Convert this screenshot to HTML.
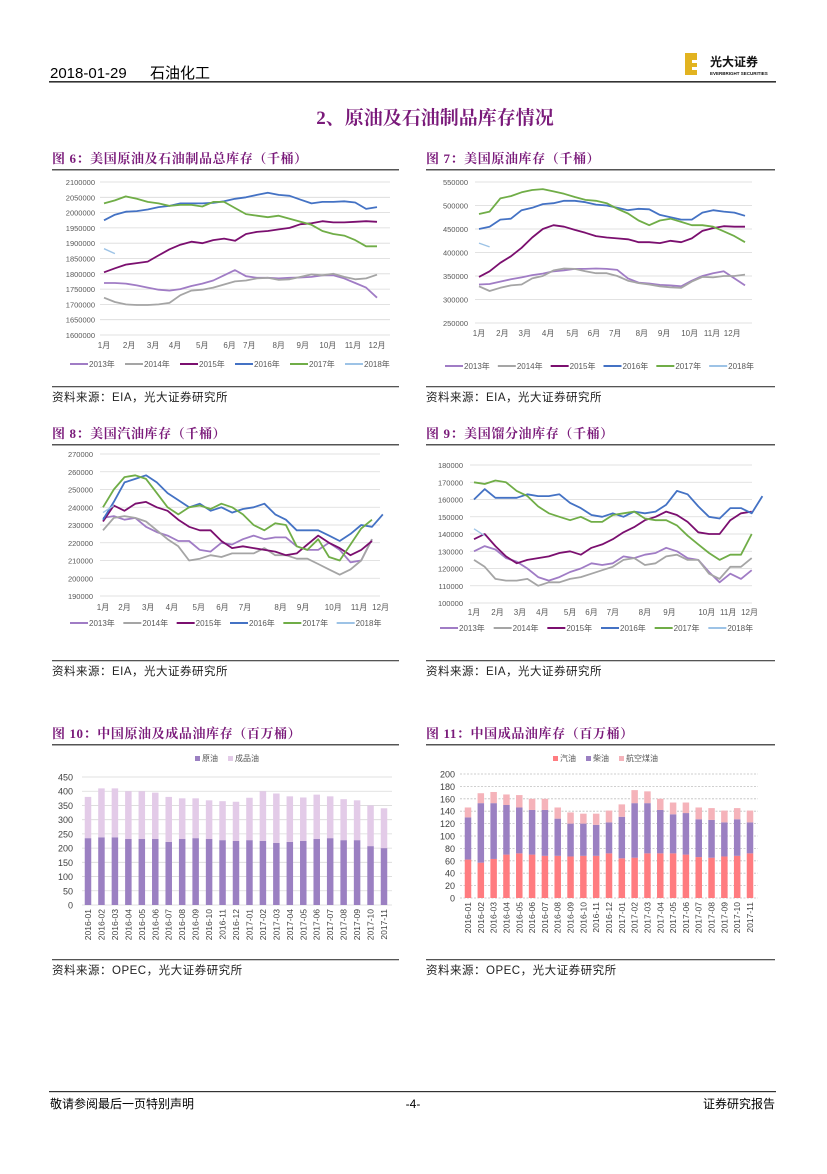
<!DOCTYPE html>
<html><head><meta charset="utf-8">
<style>
html,body{margin:0;padding:0;background:#fff;}
body{width:827px;height:1169px;position:relative;overflow:hidden;font-family:"Liberation Sans","Noto Sans CJK SC",sans-serif;}
svg text{font-family:"Liberation Sans","Noto Sans CJK SC",sans-serif;}
svg text.serif{font-family:"Liberation Serif","Noto Serif CJK SC",serif;}
</style></head>
<body>
<svg id="page" width="827" height="1169" viewBox="0 0 827 1169" xmlns="http://www.w3.org/2000/svg">
  <g>
    <text x="50" y="78" font-size="15" fill="#000">2018-01-29</text>
    <text x="150" y="78" font-size="15" fill="#000">石油化工</text>
    <rect x="49" y="81" width="727" height="1.6" fill="#333"/>
    <g>
      <rect x="685" y="53" width="12" height="22" fill="#e2b320"/>
      <rect x="692" y="60" width="5" height="3" fill="#fff"/>
      <rect x="692" y="67" width="5" height="3" fill="#fff"/>
      <text x="710" y="66" font-size="12" font-weight="bold" fill="#111">光大证券</text>
      <text x="710" y="75" font-size="4.5" font-weight="bold" fill="#111">EVERBRIGHT SECURITIES</text>
    </g>
  </g>
  <text x="435" y="124" class="serif" font-size="19" font-weight="bold" fill="#7a1a7a" text-anchor="middle">2、原油及石油制品库存情况</text>

  <g id="frames"></g>
  <g id="charts"></g>

  <g>
    <rect x="49" y="1091" width="727" height="1.2" fill="#333"/>
    <text x="50" y="1108" font-size="12" fill="#000">敬请参阅最后一页特别声明</text>
    <text x="413" y="1108" font-size="12" fill="#000" text-anchor="middle">-4-</text>
    <text x="775" y="1108" font-size="12" fill="#000" text-anchor="end">证券研究报告</text>
  </g>
</svg>
<script>
// ---------- Chart data (top-level arrays) ----------
const years = ['2013年','2014年','2015年','2016年','2017年','2018年'];
const months = ['1月','2月','3月','4月','5月','6月','7月','8月','9月','10月','11月','12月'];

// Fig 6: US total crude + products stocks (thousand barrels / 1000)
const f6_2013 = [1770,1770,1768,1762,1755,1748,1745,1750,1760,1768,1778,1795,1812,1792,1787,1787,1785,1787,1788,1790,1795,1795,1785,1770,1755,1722];
const f6_2014 = [1722,1708,1700,1698,1698,1700,1705,1730,1745,1748,1755,1765,1775,1778,1785,1787,1780,1782,1790,1798,1795,1800,1790,1782,1785,1797];
const f6_2015 = [1805,1818,1830,1835,1840,1860,1880,1895,1905,1900,1910,1915,1908,1930,1937,1940,1945,1950,1962,1965,1972,1968,1968,1970,1972,1970];
const f6_2016 = [1975,1993,2003,2005,2010,2018,2022,2030,2030,2030,2032,2037,2045,2050,2058,2065,2058,2055,2042,2030,2035,2035,2037,2033,2012,2018];
const f6_2017 = [2030,2040,2053,2045,2035,2030,2022,2025,2025,2020,2035,2035,2015,1995,1990,1985,1990,1980,1970,1960,1940,1930,1925,1910,1890,1890];
const f6_2018 = [1882,1866];
const f6_ticks = ['1600000','1650000','1700000','1750000','1800000','1850000','1900000','1950000','2000000','2050000','2100000'];

// Fig 7: US crude stocks
const f7_2013 = [332,333,338,343,347,352,355,360,362,365,365,366,365,363,345,336,334,331,330,328,340,350,356,360,345,330];
const f7_2014 = [328,318,325,330,332,345,350,362,366,365,360,356,356,350,340,335,332,328,326,325,338,348,347,350,350,353];
const f7_2015 = [348,360,378,392,410,432,450,458,455,448,442,435,432,430,428,422,422,420,425,422,430,446,452,456,455,455];
const f7_2016 = [450,455,470,472,490,495,503,505,510,510,507,502,500,495,490,493,492,480,475,470,470,485,490,487,485,478];
const f7_2017 = [482,487,515,520,528,533,535,530,525,518,512,510,505,493,483,468,458,468,472,465,458,458,455,445,435,422];
const f7_2018 = [420,412];
const f7_ticks = ['250000','300000','350000','400000','450000','500000','550000'];

// Fig 8: US gasoline stocks
const f8_2013 = [234,235,233,234,229,226,224,221,221,216,215,220,219,222,224,222,223,223,218,216,216,220,216,209,210,222];
const f8_2014 = [227,234,235,234,232,227,222,218,210,211,213,212,214,214,214,217,213,213,211,211,208,205,202,205,210,222];
const f8_2015 = [232,241,238,242,243,240,238,233,229,227,227,221,217,218,217,216,215,213,214,219,224,220,217,213,216,221];
const f8_2016 = [233,243,254,256,258,254,248,244,240,242,238,240,237,239,240,242,236,233,227,227,227,224,221,225,230,229,236];
const f8_2017 = [240,250,257,258,256,248,240,236,240,241,239,242,240,236,230,227,231,230,218,216,222,212,210,219,228,233];
const f8_2018 = [237,241];
const f8_ticks = ['190000','200000','210000','220000','230000','240000','250000','260000','270000'];

// Fig 9: US distillate stocks
const f9_2013 = [130,133,131,126,124,120,115,113,115,118,120,123,122,123,127,126,128,129,132,130,126,125,118,112,117,114,119];
const f9_2014 = [125,121,114,113,113,114,110,112,112,114,115,117,119,121,125,126,122,123,127,128,125,125,117,114,121,121,126];
const f9_2015 = [137,140,133,127,123,125,126,127,129,130,128,132,134,137,141,144,148,150,153,151,147,141,140,140,148,152,153];
const f9_2016 = [160,166,161,161,161,163,162,162,163,158,155,151,150,152,150,153,152,153,157,165,163,156,150,149,155,155,152,162];
const f9_2017 = [170,169,171,170,165,162,156,152,150,148,150,147,147,151,152,153,149,148,148,145,139,134,129,125,128,128,140];
const f9_2018 = [143,139];
const f9_ticks = ['100000','110000','120000','130000','140000','150000','160000','170000','180000'];

// Fig 10: China crude & product stocks (million bbl)
const f10_cats = ['2016-01','2016-02','2016-03','2016-04','2016-05','2016-06','2016-07','2016-08','2016-09','2016-10','2016-11','2016-12','2017-01','2017-02','2017-03','2017-04','2017-05','2017-06','2017-07','2017-08','2017-09','2017-10','2017-11'];
const f10_crude = [235,238,238,232,232,232,222,232,235,232,228,225,228,225,218,222,225,232,235,228,228,207,200];
const f10_prod  = [145,172,172,168,168,163,158,143,140,136,137,138,149,175,174,160,153,156,147,144,140,143,140];
const f10_ticks = ['0','50','100','150','200','250','300','350','400','450'];

// Fig 11: China product stocks
const f11_gasoline = [62,57,63,70,72,70,68,68,67,68,68,72,64,65,72,72,72,70,66,65,67,68,72];
const f11_diesel   = [68,96,90,80,74,72,74,60,53,52,50,50,67,88,81,70,63,67,61,61,55,59,50];
const f11_jet      = [16,16,18,17,20,18,18,18,18,16,18,19,20,21,19,18,19,17,19,19,19,18,19];
const f11_ticks = ['0','20','40','60','80','100','120','140','160','180','200'];

// ---------- rendering ----------
const NS = 'http://www.w3.org/2000/svg';
const root = document.getElementById('charts');
const frames = document.getElementById('frames');
function el(tag, attrs, parent){
  const e = document.createElementNS(NS, tag);
  for (const k in attrs) e.setAttribute(k, attrs[k]);
  (parent||root).appendChild(e);
  return e;
}
const COLORS = ['#a07cc5','#a5a5a5','#7b0f6f','#4472c4','#70ad47','#9dc3e6'];

const figs = [
  {x:52,w:347,ty:163,ly:169,sy:386,title:'图 6：美国原油及石油制品总库存（千桶）',src:'EIA'},
  {x:426,w:349,ty:163,ly:169,sy:386,title:'图 7：美国原油库存（千桶）',src:'EIA'},
  {x:52,w:347,ty:438,ly:444,sy:660,title:'图 8：美国汽油库存（千桶）',src:'EIA'},
  {x:426,w:349,ty:438,ly:444,sy:660,title:'图 9：美国馏分油库存（千桶）',src:'EIA'},
  {x:52,w:347,ty:738,ly:744,sy:959,title:'图 10：中国原油及成品油库存（百万桶）',src:'OPEC'},
  {x:426,w:349,ty:738,ly:744,sy:959,title:'图 11：中国成品油库存（百万桶）',src:'OPEC'}
];
figs.forEach(function(f){
  const t = el('text',{x:f.x,y:f.ty,'font-size':13,'font-weight':'bold',fill:'#7a1a7a','class':'serif','letter-spacing':'0.6'},frames);
  t.textContent = f.title;
  
  
  const r = el('rect',{x:f.x,y:f.ly,width:f.w,height:1.5,fill:'#555'},frames);
  
  
  const r2 = el('rect',{x:f.x,y:f.sy,width:f.w,height:1.3,fill:'#555'},frames);
  
  
  const s = el('text',{x:f.x,y:f.sy+15,'font-size':11.5,fill:'#222','letter-spacing':'0.5'},frames);
  s.textContent = '资料来源：'+f.src+'，光大证券研究所';
  
  
});

function lineChart(cfg){
  const g = el('g',{});
  
  
  const tmin = +cfg.ticks[0]/1000, tmax = +cfg.ticks[cfg.ticks.length-1]/1000;
  const yS = v => cfg.y1 + (cfg.y0-cfg.y1)*(tmax - v)/(tmax - tmin);
  const step = (cfg.xe - cfg.xs)/25;
  const xS = i => cfg.xs + i*step;
  cfg.ticks.forEach(function(t){
    const y = yS(+t/1000);
    const gl = el('line',{x1:cfg.gx0,x2:cfg.gx1,y1:y,y2:y,stroke:'#d9d9d9','stroke-width':0.8},g);
    
    
    const tx = el('text',{x:cfg.lx,y:y+3,'font-size':7.5,fill:'#595959','text-anchor':'end'},g);
    tx.textContent = t;
    
    
  });
  months.forEach(function(m,i){
    const tx = el('text',{x:xS(cfg.mpos[i]),y:cfg.my,'font-size':8,fill:'#595959','text-anchor':'middle'},g);
    tx.textContent = m;
    
    
  });
  cfg.series.forEach(function(s,k){
    const pts = s.map((v,i)=> xS(i).toFixed(1)+','+yS(v).toFixed(1)).join(' ');
    const p = el('polyline',{points:pts,fill:'none',stroke:COLORS[k],'stroke-width':k==5?1.4:1.8,'stroke-linejoin':'round'},g);
    
    
  });
  const lw = (cfg.gx1 - cfg.gx0 + 40)/6;
  years.forEach(function(yr,k){
    const x = cfg.gx0 - 30 + k*lw;
    const lg = el('g',{},g);
    
    
    el('line',{x1:x,x2:x+18,y1:cfg.ly,y2:cfg.ly,stroke:COLORS[k],'stroke-width':2},lg);
    const tx = el('text',{x:x+19,y:cfg.ly+3,'font-size':8,fill:'#595959'},lg);
    tx.textContent = yr;
  });
}

lineChart({name:'fig6-total-stocks-chart',ticks:f6_ticks,y0:335,y1:182,xs:104,xe:377,gx0:100,gx1:390,lx:95,my:348,ly:364,
  mpos:[0,2.3,4.5,6.5,9,11.5,13.3,16,18.2,20.5,22.8,25],series:[f6_2013,f6_2014,f6_2015,f6_2016,f6_2017,f6_2018]});
lineChart({name:'fig7-crude-stocks-chart',ticks:f7_ticks,y0:323,y1:182,xs:479,xe:745,gx0:475,gx1:752,lx:468,my:336,ly:366,
  mpos:[0,2.2,4.3,6.5,8.8,10.8,12.8,15.3,17.4,19.8,21.9,23.8],series:[f7_2013,f7_2014,f7_2015,f7_2016,f7_2017,f7_2018]});
lineChart({name:'fig8-gasoline-stocks-chart',ticks:f8_ticks,y0:596,y1:454,xs:103,xe:372,gx0:100,gx1:380,lx:93,my:610,ly:623,
  mpos:[0,2,4.2,6.4,8.9,11.1,13.2,16.5,18.6,21.4,23.8,25.8],series:[f8_2013,f8_2014,f8_2015,f8_2016,f8_2017,f8_2018]});
lineChart({name:'fig9-distillate-stocks-chart',ticks:f9_ticks,y0:603,y1:465,xs:474,xe:741,gx0:470,gx1:752,lx:463,my:615,ly:628,
  mpos:[0,2.2,4.3,6.4,9,11,13,16,18.3,21.8,23.8,25.8],series:[f9_2013,f9_2014,f9_2015,f9_2016,f9_2017,f9_2018]});

function barChart(cfg){
  const g = el('g',{});
  
  
  const tmax = +cfg.ticks[cfg.ticks.length-1];
  const yS = v => cfg.y0 - (cfg.y0-cfg.y1)*v/tmax;
  const n = cfg.cats.length;
  const xS = i => cfg.xs + i*(cfg.xe-cfg.xs)/(n-1);
  cfg.ticks.forEach(function(t){
    const y = yS(+t);
    const gl = el('line',{x1:cfg.gx0,x2:cfg.gx1,y1:y,y2:y,stroke:cfg.grid,'stroke-width':0.8,'stroke-dasharray':cfg.dash||'none'},g);
    
    
    const tx = el('text',{x:cfg.lx,y:y+3.5,'font-size':9,fill:'#404040','text-anchor':'end'},g);
    tx.textContent = t;
    
    
  });
  cfg.cats.forEach(function(c,i){
    let base = 0;
    cfg.series.forEach(function(s,k){
      const v = s[i];
      const r = el('rect',{x:xS(i)-cfg.bw/2,y:yS(base+v),width:cfg.bw,height:yS(base)-yS(base+v),fill:cfg.colors[k]},g);
      
      
      base += v;
    });
    const tx = el('text',{x:0,y:0,'font-size':8.5,fill:'#404040','text-anchor':'end',transform:'translate('+(xS(i)+3)+','+(cfg.y0+4)+') rotate(-90)'},g);
    tx.textContent = c;
    
    
  });
  let lx = cfg.legx;
  cfg.snames.forEach(function(nm,k){
    const lg = el('g',{},g);
    
    
    el('rect',{x:lx,y:cfg.legy-5,width:5,height:5,fill:cfg.colors[k]},lg);
    const tx = el('text',{x:lx+7,y:cfg.legy,'font-size':8,fill:'#595959'},lg);
    tx.textContent = cfg.labels[k];
    lx += 9 + cfg.labels[k].length*9 + 6;
  });
}

barChart({name:'fig10-china-stocks-chart',cats:f10_cats,series:[f10_crude,f10_prod],ticks:f10_ticks,
  colors:['#9b80c2','#e3cbe8'],snames:['crude','products'],labels:['原油','成品油'],
  y0:905,y1:777,xs:88,xe:384,bw:6.5,gx0:82,gx1:392,lx:73,grid:'#d9d9d9',legx:195,legy:761});
barChart({name:'fig11-china-products-chart',cats:f10_cats,series:[f11_gasoline,f11_diesel,f11_jet],ticks:f11_ticks,
  colors:['#ff7c80','#9b80c2','#f5b3ba'],snames:['gasoline','diesel','jet-fuel'],labels:['汽油','柴油','航空煤油'],
  y0:898,y1:774,xs:468,xe:750,bw:6.5,gx0:460,gx1:758,lx:455,grid:'#bfbfbf',dash:'2,1.5',legx:553,legy:761});
</script>
</body></html>
